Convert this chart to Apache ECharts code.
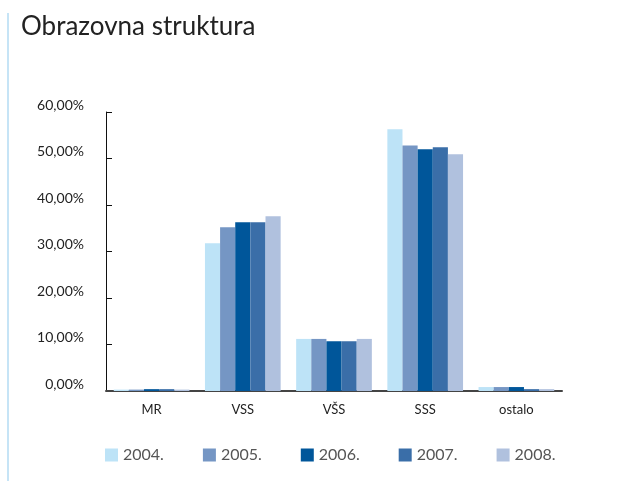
<!DOCTYPE html>
<html>
<head>
<meta charset="utf-8">
<script src="https://cdn.jsdelivr.net/npm/echarts@6/dist/echarts.min.js"></script>
<style>
  html, body { margin: 0; padding: 0; background: #fff; }
  #chart { width: 641px; height: 484px; }
</style>
</head>
<body>
<div id="chart"></div>
<script>
var categories = ["MR", "VSS", "VŠS", "SSS", "ostalo"];
var years = ["2004.", "2005.", "2006.", "2007.", "2008."];
var colors = ["#bde3f7", "#7596c4", "#00569a", "#3a6ea8", "#b0c1de"];

// udjeli po godinama, redom MR, VSS, VŠS, SSS, ostalo
var y2004 = [0.3, 31.8, 11.2, 56.3, 0.85];
var y2005 = [0.3, 35.2, 11.2, 52.8, 0.85];
var y2006 = [0.4, 36.3, 10.7, 52.0, 0.85];
var y2007 = [0.4, 36.3, 10.7, 52.4, 0.4];
var y2008 = [0.3, 37.6, 11.2, 50.9, 0.4];

var tickValues = [10, 20, 30, 40, 50, 60];
var labelValues = [0, 10, 20, 30, 40, 50, 60];

var myChart = echarts.init(document.getElementById("chart"));

function processSeries() {
  var data = [y2004, y2005, y2006, y2007, y2008];
  var seriesList = [];
  for (var i = 0; i < years.length; i++) {
    seriesList.push({
      type: "bar",
      name: years[i],
      data: data[i],
      color: colors[i],
      barGap: "0%",
      barCategoryGap: "17%",
    });
  }
  return seriesList;
}

var option = {
  animation: false,
  title: {
    text: "Obrazovna struktura",
    left: 16,
    top: 9,
    textStyle: {
      fontFamily: "Lato",
      fontWeight: "normal",
      fontSize: 26,
      color: "#222",
    },
  },
  graphic: [
    {
      type: "rect",
      left: 7,
      top: 13,
      shape: { width: 2, height: 468 },
      style: { fill: "#c6e4f6" },
    },
  ],
  legend: {
    data: years,
    top: 442,
    left: 100,
    itemWidth: 13,
    itemHeight: 13,
    itemGap: 39,
    icon: "rect",
    textStyle: {
      fontFamily: "Lato",
      fontSize: 16,
      color: "#555",
    },
  },
  grid: {
    left: 106,
    right: 79,
    top: 112,
    bottom: 93,
  },
  xAxis: {
    type: "category",
    data: categories,
    axisLine: { lineStyle: { color: "#444", width: 2 } },
    axisTick: { show: false },
    axisLabel: {
      margin: 12,
      fontFamily: "Lato",
      fontSize: 13,
      color: "#222",
    },
  },
  yAxis: {
    type: "value",
    min: 0,
    max: 60,
    interval: 10,
    splitLine: { show: false },
    axisLine: { show: true, lineStyle: { color: "#111", width: 1 } },
    axisTick: {
      show: true,
      inside: true,
      length: 6,
      customValues: tickValues,
      lineStyle: { color: "#111" },
    },
    axisLabel: {
      margin: 22,
      verticalAlign: "bottom",
      customValues: labelValues,
      fontFamily: "Lato",
      fontSize: 14,
      color: "#222",
      formatter: function (value) {
        return value.toFixed(2).replace(".", ",") + "%";
      },
    },
  },
  series: processSeries(),
};

myChart.setOption(option);
</script>
</body>
</html>
